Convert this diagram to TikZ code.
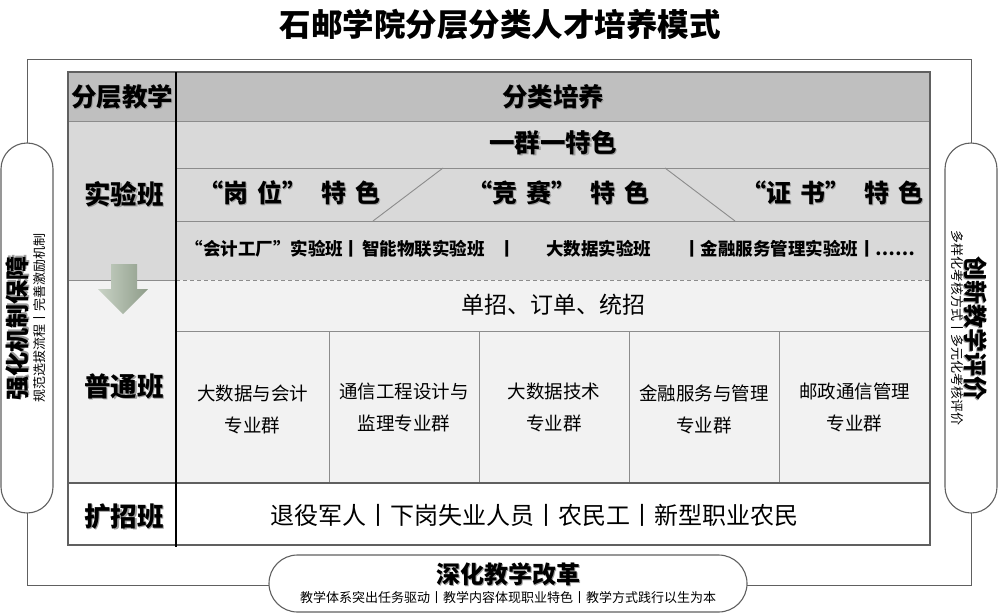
\documentclass[tikz,border=0pt]{standalone}
\usepackage{fontspec}
\setmainfont{Noto Sans CJK SC}
\definecolor{hdr}{HTML}{BFBFBF}
\definecolor{lab}{HTML}{D9D9D9}
\definecolor{gen}{HTML}{F2F2F2}
\definecolor{lgray}{HTML}{8C8C8C}
\definecolor{bgray}{HTML}{606060}
\definecolor{arrL}{HTML}{C9D3C6}
\definecolor{arrR}{HTML}{8E9C89}
\newcommand\shd[1]{\leavevmode\rlap{\kern1.3pt\raisebox{-1.3pt}{\textcolor{black!38}{#1}}}#1}
\newcommand\fs[1]{\fontsize{#1}{#1}\selectfont}
\tikzset{
  txt/.style={inner sep=0pt, outer sep=0pt, text=black},
  cell/.style={inner sep=0pt, outer sep=0pt, text=black, align=center, font=\fontsize{18.5}{32}\selectfont},
  pill/.style={draw=bgray, fill=white, line width=1.1pt, inner sep=0pt, outer sep=0pt},
  gline/.style={draw=lgray, line width=0.9pt},
}
\begin{document}
\begin{tikzpicture}[x=1pt,y=-1pt]
\useasboundingbox (0,0) rectangle (999,613);
\fill[white] (0,0) rectangle (999,613);
% outer frame
\draw[draw=bgray, line width=1pt] (27,59) rectangle (971,585);
% fills
\fill[hdr] (68,72) rectangle (930,121);
\fill[lab] (68,121) rectangle (930,280);
\fill[gen] (68,280) rectangle (930,483);
\fill[white] (68,483) rectangle (930,545);
% inner lines
\draw[gline] (68,121) -- (930,121);
\draw[gline] (176,168) -- (930,168);
\draw[gline] (176,221) -- (930,221);
\draw[gline] (373,221) -- (443,168);
\draw[gline] (665,168) -- (735,221);
\draw[gline] (68,280) -- (176,280);
\draw[gline, dash pattern=on 4pt off 3pt] (176,280) -- (930,280);
\draw[gline] (176,331) -- (930,331);
\foreach \x in {329,479,629,779} \draw[gline] (\x,331) -- (\x,483);
\draw[draw=bgray, line width=1.2pt] (68,483) -- (930,483);
% table border
\draw[draw=bgray, line width=1.5pt] (68,72) rectangle (930,545);
\draw[black, line width=2.6pt] (176,72) -- (176,547);
% arrow
\shade[left color=arrL, right color=arrR] (111,264) -- (137,264) -- (137,289) -- (148,289) -- (123,314) -- (98,289) -- (111,289) -- cycle;
% pills
\node[pill, minimum width=52pt, minimum height=370pt, rounded corners=26pt] (lp) at (27,328) {};
\node[pill, minimum width=52pt, minimum height=370pt, rounded corners=26pt] (rp) at (971,328) {};
\node[pill, minimum width=478pt, minimum height=57pt, rounded corners=28.5pt] (bp) at (508,583.5) {};
% title
\node[txt] (title) at (500,25) {\fs{31.5}\bfseries 石邮学院分层分类人才培养模式};
% left column labels
\node[txt] (fcjx) at (122,97) {\fs{25.5}\bfseries\shd{分层教学}};
\node[txt] (syb) at (124,195) {\fs{26.5}\bfseries\shd{实验班}};
\node[txt] (ptb) at (124,387) {\fs{26.5}\bfseries\shd{普通班}};
\node[txt] (kzb) at (124,517) {\fs{26.5}\bfseries\shd{扩招班}};
% right header
\node[txt] (flpy) at (553,97) {\fs{25.5}\bfseries\shd{分类培养}};
\node[txt] (yqyts) at (553,143) {\fs{25.5}\bfseries\shd{一群一特色}};
% feature row
\node[txt] (gw) at (289,193) {\fs{25}\bfseries\shd{“岗\hspace{9pt}位”\hspace{14pt}特\hspace{9pt}色}};
\node[txt] (js) at (558,193) {\fs{25}\bfseries\shd{“竞\hspace{9pt}赛”\hspace{14pt}特\hspace{9pt}色}};
\node[txt] (zs) at (832,193) {\fs{25}\bfseries\shd{“证\hspace{9pt}书”\hspace{14pt}特\hspace{9pt}色}};
% class row
\node[txt, anchor=east] (c1) at (343,249) {\fs{17.5}\bfseries “会计工厂”实验班};
\node[txt] (b1) at (351,249) {\fs{17.5}\bfseries 丨};
\node[txt, anchor=west] (c2) at (362,249) {\fs{17.5}\bfseries 智能物联实验班};
\node[txt] (b2) at (507,249) {\fs{17.5}\bfseries 丨};
\node[txt, anchor=west] (c3) at (546,249) {\fs{17.5}\bfseries 大数据实验班};
\node[txt, anchor=west] (c4) at (683,249) {\fs{17.5}\bfseries 丨金融服务管理实验班丨……};
% general
\node[txt] (dz) at (553,305) {\fs{23}单招、订单、统招};
\node[cell] (g1) at (252.5,409) {大数据与会计\\专业群};
\node[cell] (g2) at (404,407) {通信工程设计与\\监理专业群};
\node[cell] (g3) at (554,407) {大数据技术\\专业群};
\node[cell] (g4) at (704,409) {金融服务与管理\\专业群};
\node[cell] (g5) at (854.5,407) {邮政通信管理\\专业群};
% expansion
\node[txt] (kz) at (534,515) {\fs{24}退役军人丨下岗失业人员丨农民工丨新型职业农民};
% side texts
\node[txt, rotate=90] (lpt) at (18,328) {\fs{24}\bfseries\shd{强化机制保障}};
\node[txt, rotate=90] (lps) at (40,318) {\fs{13}规范选拔流程丨完善激励机制};
\node[txt, rotate=-90] (rpt) at (975,328) {\fs{24}\bfseries\shd{创新教学评价}};
\node[txt, rotate=-90] (rps) at (957,328) {\fs{13}多样化考核方式丨多元化考核评价};
% bottom
\node[txt] (bpt) at (508,575) {\fs{24}\bfseries\shd{深化教学改革}};
\node[txt] (bps) at (508,598) {\fs{13}教学体系突出任务驱动丨教学内容体现职业特色丨教学方式践行以生为本};
\end{tikzpicture}
\end{document}
